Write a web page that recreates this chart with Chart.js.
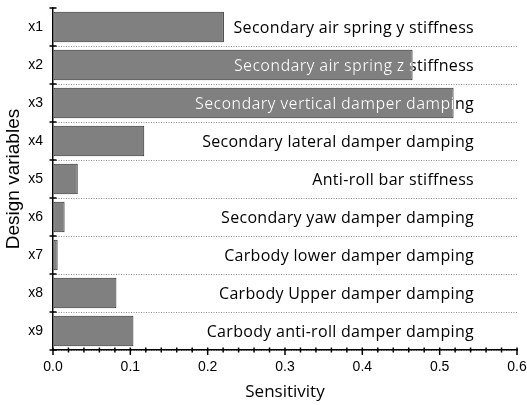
<!DOCTYPE html>
<html>
<head>
<meta charset="utf-8">
<script src="https://cdn.jsdelivr.net/npm/chart.js@4"></script>
<style>
  html, body { margin: 0; padding: 0; background: #fff; }
  #wrap { width: 527px; height: 405px; }
</style>
</head>
<body>
<div id="wrap"><canvas id="sensChart"></canvas></div>
<script>
// ---- data ----
const variables = ["x1", "x2", "x3", "x4", "x5", "x6", "x7", "x8", "x9"];
const sensitivity = [0.221, 0.465, 0.518, 0.118, 0.032, 0.015, 0.006, 0.082, 0.104];
const descriptions = [
    "Secondary air spring y stiffness",
    "Secondary air spring z stiffness",
    "Secondary vertical damper damping",
    "Secondary lateral damper damping",
    "Anti-roll bar stiffness",
    "Secondary yaw damper damping",
    "Carbody lower damper damping",
    "Carbody Upper damper damping",
    "Carbody anti-roll damper damping"
];
const xTicks = [0, 0.1, 0.2, 0.3, 0.4, 0.5, 0.6];

const labelFont = "16px 'Open Sans'";

// text on each row: black, but white where it lies over the bar
const rowLabels = {
    id: "rowLabels",
    afterDatasetsDraw(chart) {
        const ctx = chart.ctx;
        const meta = chart.getDatasetMeta(0);
        const right = chart.chartArea.right - 43;
        ctx.save();
        ctx.font = labelFont;
        ctx.letterSpacing = "0.3px";
        ctx.textAlign = "right";
        ctx.textBaseline = "middle";
        meta.data.forEach((bar, i) => {
            ctx.fillStyle = "#000";
            ctx.fillText(descriptions[i], right, bar.y + 1);
            ctx.save();
            ctx.beginPath();
            ctx.rect(bar.base, bar.y - bar.height / 2, bar.x - bar.base, bar.height);
            ctx.clip();
            ctx.fillStyle = "#fff";
            ctx.fillText(descriptions[i], right, bar.y + 1);
            ctx.restore();
        });
        ctx.restore();
    }
};

// tick marks crossing the axes
const axisTicks = {
    id: "axisTicks",
    afterDraw(chart) {
        const ctx = chart.ctx;
        const xs = chart.scales.x, ys = chart.scales.y;
        ctx.save();
        ctx.strokeStyle = "#000";
        ctx.lineWidth = 1.5;
        ctx.beginPath();
        // y: row boundaries
        const n = variables.length;
        for (let i = 0; i <= n; i++) {
            let y;
            if (i === 0) y = ys.top;
            else if (i === n) y = ys.bottom;
            else y = (ys.getPixelForTick(i - 1) + ys.getPixelForTick(i)) / 2;
            ctx.moveTo(xs.left - 3.5, y);
            ctx.lineTo(xs.left + 3.5, y);
        }
        // x: major and minor
        xs.ticks.forEach(t => {
            const px = xs.getPixelForValue(t.value);
            const major = Math.abs(t.value * 10 - Math.round(t.value * 10)) < 1e-6;
            ctx.moveTo(px, ys.bottom - 2.5);
            ctx.lineTo(px, ys.bottom + (major ? 5 : 2.5));
        });
        ctx.stroke();
        ctx.restore();
    }
};

new Chart(document.getElementById("sensChart"), {
    type: "bar",
    data: {
        labels: variables,
        datasets: [{
            data: sensitivity,
            backgroundColor: "#808080",
            borderColor: "#2b2b2b",
            borderWidth: 1,
            borderSkipped: false,
            categoryPercentage: 0.8,
            barPercentage: 1
        }]
    },
    options: {
        indexAxis: "y",
        responsive: true,
        maintainAspectRatio: false,
        animation: false,
        layout: { padding: { top: 8, right: 10, left: 0, bottom: 0 } },
        plugins: {
            legend: { display: false },
            tooltip: { enabled: false }
        },
        scales: {
            x: {
                min: 0,
                max: 0.6,
                afterFit: s => { s.height = 55; s.paddingLeft = 0; s.paddingRight = 0; },
                ticks: {
                    stepSize: 0.02,
                    autoSkip: false,
                    maxRotation: 0,
                    padding: 9,
                    color: "#000",
                    font: { family: "'Liberation Sans'", size: 14 },
                    callback: v => {
                        const hit = xTicks.find(t => Math.abs(t - v) < 1e-6);
                        return hit === undefined ? "" : hit.toFixed(1);
                    }
                },
                grid: { display: true, drawOnChartArea: false, drawTicks: false, color: "transparent" },
                border: { display: true, color: "#000", width: 1.5 },
                title: {
                    display: true,
                    text: "Sensitivity",
                    color: "#000",
                    font: { family: "'Open Sans'", size: 17 },
                    padding: { bottom: 3 }
                }
            },
            y: {
                afterFit: s => { s.width = 53; s.paddingTop = 0; s.paddingBottom = 0; },
                ticks: {
                    color: "#000",
                    padding: 10,
                    font: { family: "'Liberation Sans'", size: 14 }
                },
                grid: {
                    offset: true,
                    drawTicks: false,
                    lineWidth: 1,
                    color: ctx => (ctx.index === 0 || ctx.index >= variables.length) ? "transparent" : "#8a8a8a"
                },
                border: { display: true, color: "#000", width: 1.5, dash: [1, 1.5] },
                title: {
                    display: true,
                    text: "Design variables",
                    color: "#000",
                    font: { family: "'Liberation Sans'", size: 19 },
                    padding: { top: 2 }
                }
            }
        }
    },
    plugins: [rowLabels, axisTicks]
});
</script>
</body>
</html>
